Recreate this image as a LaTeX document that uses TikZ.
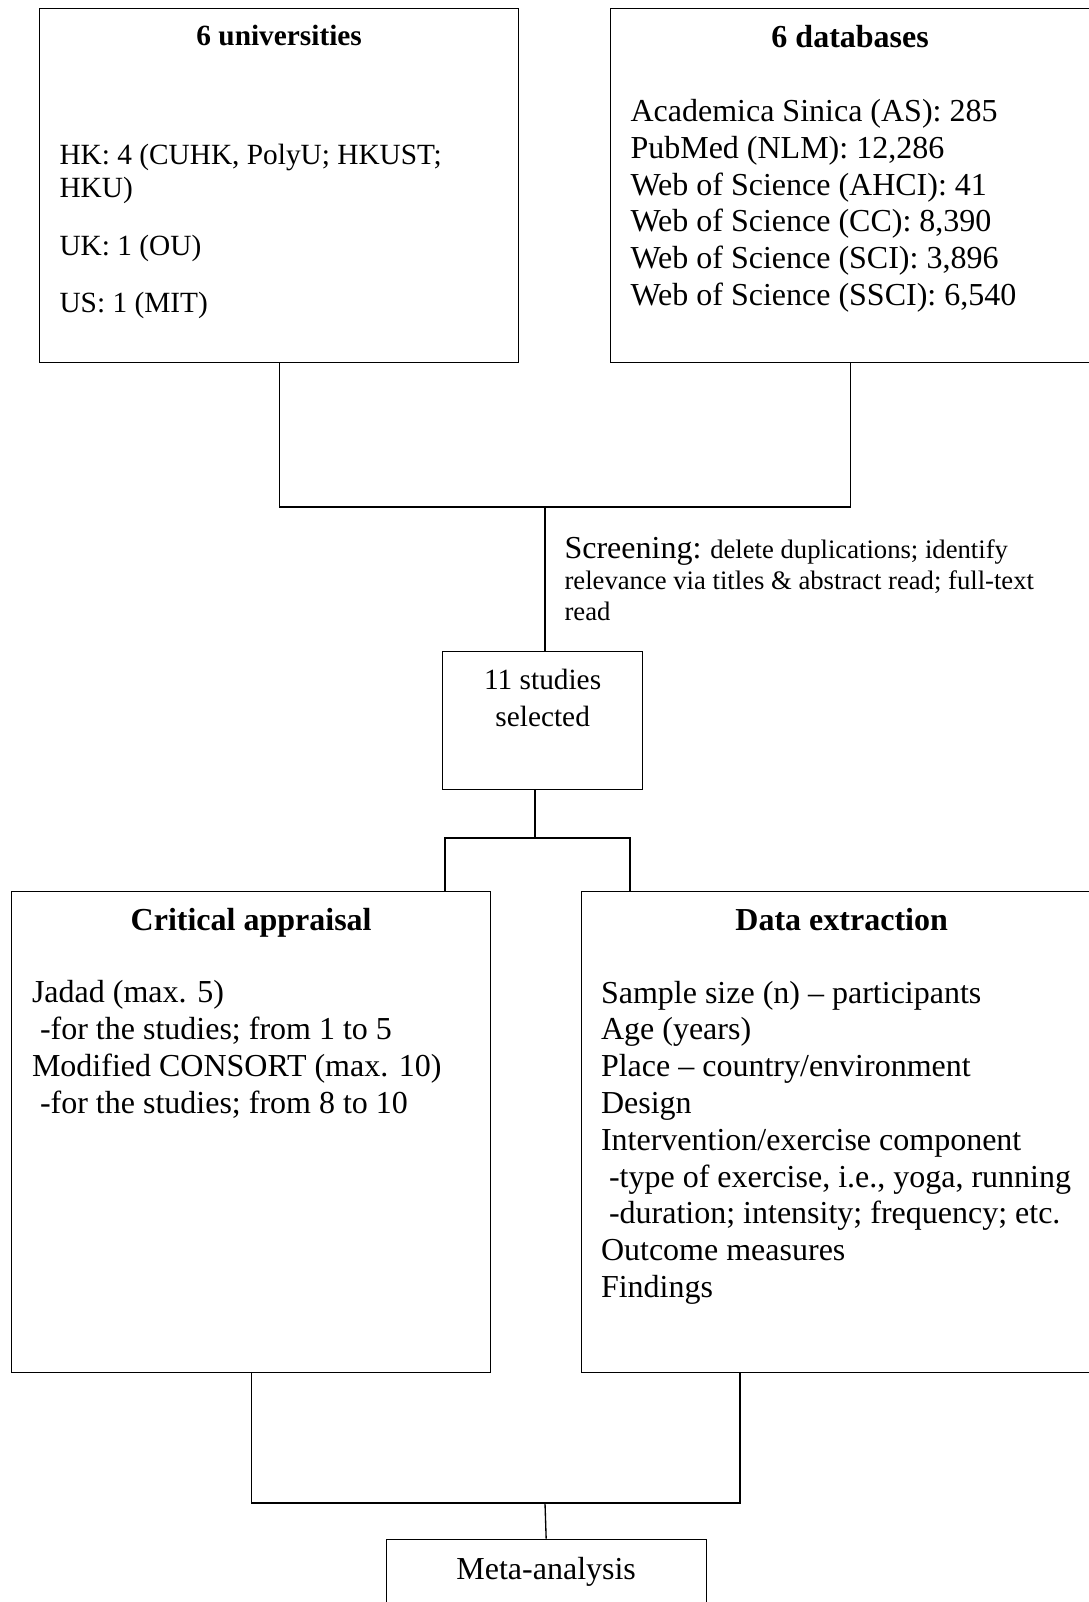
\documentclass[tikz,border=0pt]{standalone}
\usepackage{fontspec}
\setmainfont{Liberation Serif}
\usetikzlibrary{positioning, calc}

\begin{document}
\begin{tikzpicture}[
    x=0.375pt, y=-0.375pt,
    % Styles embedded for portability
    box/.style={rectangle, draw=black, line width=0.5pt, anchor=north west, inner sep=0pt},
    box_title/.style={anchor=base, inner sep=0pt, font=\fontsize{12}{13.8}\selectfont\bfseries},
    box_text/.style={anchor=base west, inner sep=0pt, align=left, font=\fontsize{12}{13.8}\selectfont},
    line/.style={draw, line width=0.5pt}
]
    \useasboundingbox (0,0) rectangle (1088,1602);

    % --- SOURCES (Top) ---
    % (multi-line texts are placed by the baseline of their last line)
    \node [box, minimum width=479*0.375pt, minimum height=353.5*0.375pt] (uni) at (39,8) {};
    \node [box, minimum width=479*0.375pt, minimum height=353.5*0.375pt] (db) at (610,8) {};

    \node [box_title, font=\fontsize{11}{12.5}\selectfont\bfseries] (uni_title) at ($(uni.north)+(0,37)$) {6 universities};
    \node [box_text, font=\fontsize{11}{12.5}\selectfont] (uni_list) at ($(uni.north west)+(20,304)$)
        {HK: 4 (CUHK, PolyU; HKUST;\\HKU)\\[9pt]UK: 1 (OU)\\[8.8pt]US: 1 (MIT)};

    \node [box_title] (db_title) at ($(db.north)+(0,39)$) {6 databases};
    \node [box_text] (db_list) at ($(db.north west)+(20,297.5)$)
        {Academica Sinica (AS): 285\\PubMed (NLM): 12,286\\Web of Science (AHCI): 41\\Web of Science (CC): 8,390\\Web of Science (SCI): 3,896\\Web of Science (SSCI): 6,540};

    % --- SCREENING ---
    \node [box, minimum width=200*0.375pt, minimum height=137.5*0.375pt] (studies) at (442,651) {};
    \node [box_title, font=\fontsize{11}{13.8}\selectfont, align=center] (studies_text) at ($(studies.north)+(0,75)$) {11 studies\\selected};

    \coordinate (merge_top) at (545,507);
    \node [box_text, font=\fontsize{10}{11.6}\selectfont] (screening) at (564,620)
        {{\fontsize{12}{13.8}\selectfont Screening:} delete duplications; identify\\relevance via titles \& abstract read; full-text\\read};

    % --- APPRAISAL & EXTRACTION ---
    \node [box, minimum width=479*0.375pt, minimum height=481*0.375pt] (appraisal) at (11,890.5) {};
    \node [box, minimum width=521*0.375pt, minimum height=481*0.375pt] (extraction) at (580.5,890.5) {};

    \node [box_title] (appraisal_title) at ($(appraisal.north)+(0,39.5)$) {Critical appraisal};
    \node [box_text] (appraisal_list) at ($(appraisal.north west)+(20.5,222.5)$)
        {Jadad (max. 5)\\\ -for the studies; from 1 to 5\\Modified CONSORT (max. 10)\\\ -for the studies; from 8 to 10};

    \node [box_title] (extraction_title) at ($(extraction.north)+(0,39.5)$) {Data extraction};
    \node [box_text] (extraction_list) at ($(extraction.north west)+(20,407)$)
        {Sample size (n) -- participants\\Age (years)\\Place -- country/environment\\Design\\Intervention/exercise component\\\ -type of exercise, i.e., yoga, running\\\ -duration; intensity; frequency; etc.\\Outcome measures\\Findings};

    % --- OUTPUT ---
    \node [box, minimum width=320*0.375pt, minimum height=100*0.375pt] (meta) at (385.5,1538.5) {};
    \node [box_title, font=\fontsize{12}{13.8}\selectfont] (meta_text) at ($(meta.north)+(0,41)$) {Meta-analysis};

    \coordinate (split) at (535,838);
    \coordinate (split_l) at (445,838);
    \coordinate (split_r) at (630,838);
    \coordinate (merge_out) at (545,1503);
    \coordinate (merge_r) at (740,1503);

    % --- CONNECTIONS ---
    \draw [line] (uni.south) |- (merge_top) -| (db.south);
    \draw [line] (merge_top) -- (merge_top |- studies.north);

    \draw [line] (split |- studies.south) -- (split);
    \draw [line] (split_l |- appraisal.north) -- (split_l) -- (split_r) -- (split_r |- extraction.north);

    \draw [line] (appraisal.south) |- (merge_r) -- (merge_r |- extraction.south);
    \draw [line] (merge_out) -- (meta.north);

\end{tikzpicture}
\end{document}
